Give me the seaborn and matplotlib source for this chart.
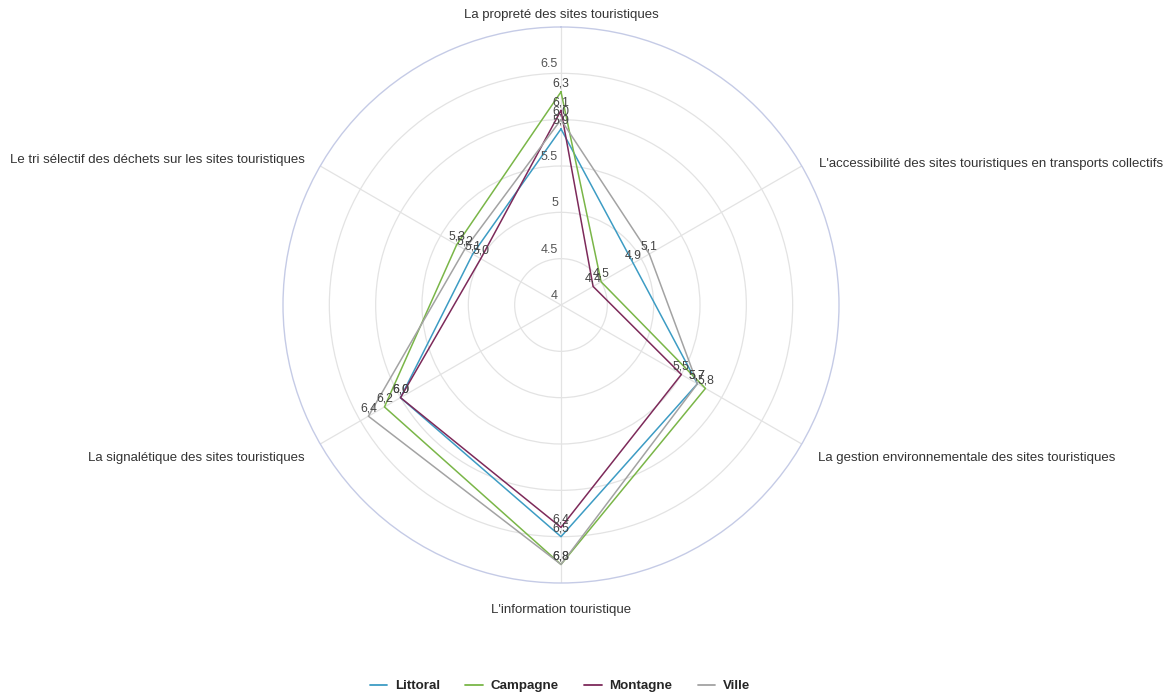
import numpy as np
import pandas as pd
import seaborn as sns
import matplotlib.pyplot as plt
from matplotlib.lines import Line2D

# critères dans l'ordre horaire, en partant du haut
criteres = [
    "La propreté des sites touristiques",
    "L'accessibilité des sites touristiques en transports collectifs",
    "La gestion environnementale des sites touristiques",
    "L'information touristique",
    "La signalétique des sites touristiques",
    "Le tri sélectif des déchets sur les sites touristiques",
]
zones = ['Littoral', 'Campagne', 'Montagne', 'Ville']
littoral = [5.9, 4.9, 5.7, 6.5, 6.0, 5.1]
campagne = [6.3, 4.5, 5.8, 6.8, 6.2, 5.3]
montagne = [6.1, 4.4, 5.5, 6.4, 6.0, 5.0]
ville = [6.0, 5.1, 5.7, 6.8, 6.4, 5.2]
couleurs = ['#3d9cc4', '#7ab648', '#7d2a5a', '#a3a3a3']
graduations = [4, 4.5, 5, 5.5, 6, 6.5, 7]
graduations_affichees = [4, 4.5, 5, 5.5, 6.5]

sns.set_style('white')
plt.rcParams['font.family'] = ['Liberation Sans', 'DejaVu Sans']

n = len(criteres)
angles = [2 * np.pi * i / n for i in range(n)]

rows = []
for zone, notes in zip(zones, [littoral, campagne, montagne, ville]):
    for a, v in zip(angles + [2 * np.pi], notes + [notes[0]]):
        rows.append({'zone': zone, 'theta': a, 'note': v})
df = pd.DataFrame(rows)

fig = plt.figure(figsize=(11.65, 6.95), dpi=100)
ax = fig.add_axes([283 / 1165, 112 / 695, 556 / 1165, 556 / 695], projection='polar')
ax.set_theta_zero_location('N')
ax.set_theta_direction(-1)
ax.set_ylim(4, 7)

sns.lineplot(data=df, x='theta', y='note', hue='zone', palette=couleurs,
             sort=False, estimator=None, ax=ax, legend=False, linewidth=1.1)

ax.set_xticks(angles)
ax.set_xticklabels([])
ax.set_yticks(graduations[1:-1])
ax.set_yticklabels([])
ax.set_xlabel('')
ax.set_ylabel('')
ax.grid(color='#e3e3e3', linewidth=0.9)
ax.spines['polar'].set_color('#c5cbe6')
ax.spines['polar'].set_linewidth(1.0)

# graduations radiales le long de l'axe du haut
for g in graduations_affichees:
    ax.annotate(f'{g:g}', xy=(0, g), xytext=(-3, 3), textcoords='offset pixels',
                ha='right', va='bottom', fontsize=9, color='#555555')

# libellés des axes
decalages = [((0, 12), 'center', 'center'),
             ((17, 2), 'left', 'center'),
             ((16, -14), 'left', 'center'),
             ((0, -27), 'center', 'center'),
             ((-16, -14), 'right', 'center'),
             ((-15, 6), 'right', 'center')]
for a, lab, (off, ha, va) in zip(angles, criteres, decalages):
    ax.annotate(lab, xy=(a, 7), xytext=off, textcoords='offset pixels',
                ha=ha, va=va, fontsize=9.5, color='#333333', annotation_clip=False)

# étiquettes de valeurs
for notes in [littoral, campagne, montagne, ville]:
    for a, v in zip(angles, notes):
        ax.annotate(f'{v:.1f}'.replace('.', ','), xy=(a, v), xytext=(0, 2),
                    textcoords='offset pixels', ha='center', va='bottom',
                    fontsize=8.8, color='#444444')

handles = [Line2D([0], [0], color=c, lw=1.3) for c in couleurs]
fig.legend(handles, zones, loc='center', bbox_to_anchor=(560 / 1165, 9 / 695), ncol=4,
           frameon=False, prop={'weight': 'bold', 'size': 9.6}, handlelength=1.3,
           columnspacing=1.9, handletextpad=0.6)

fig.savefig('out.png', dpi=100)
